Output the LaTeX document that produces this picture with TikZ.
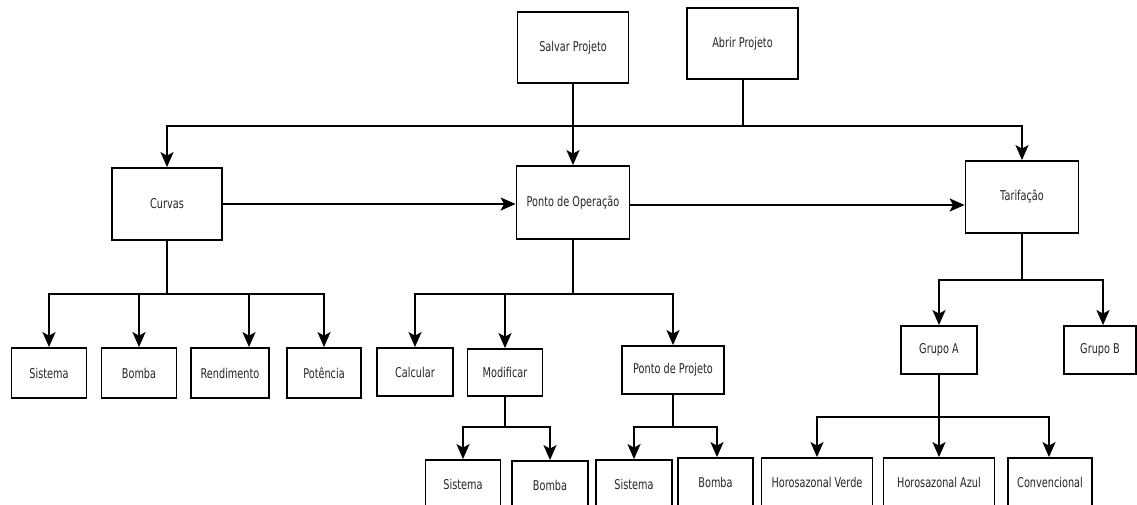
\documentclass[tikz,border=0pt]{standalone}
\usepackage{fontspec}
\setmainfont{DejaVu Sans}[FakeStretch=0.72]
\usetikzlibrary{arrows.meta}
\begin{document}
\begin{tikzpicture}[x=1pt,y=-1pt,
  box/.style={draw=black,line width=1.8pt,fill=white,inner sep=0pt,
    font=\fontsize{13.5}{16}\selectfont,text=black!85},
  conn/.style={draw=black,line width=1.8pt},
  arr/.style={conn,-{Stealth[length=15pt,width=13pt,inset=3.5pt]}}]
\useasboundingbox (0,0) rectangle (1137,504);
\clip (0,0) rectangle (1137,504);
% top row
\node[box,minimum width=111pt,minimum height=71pt] (salvar) at (573,47.5) {Salvar Projeto};
\node[box,minimum width=111pt,minimum height=71pt] (abrir) at (742.5,43.5) {Abrir Projeto};
% second row
\node[box,minimum width=110pt,minimum height=72pt] (curvas) at (167,204) {Curvas};
\node[box,minimum width=113pt,minimum height=73pt] (ponto) at (573,202.5) {Ponto de Operação};
\node[box,minimum width=113pt,minimum height=72pt] (tarif) at (1022,197) {Tarifação};
% third row
\node[box,minimum width=75pt,minimum height=50pt] (csis) at (49,373) {Sistema};
\node[box,minimum width=75pt,minimum height=50pt] (cbom) at (139,373) {Bomba};
\node[box,minimum width=78pt,minimum height=50pt] (cren) at (230,373) {Rendimento};
\node[box,minimum width=74pt,minimum height=50pt] (cpot) at (324,373) {Potência};
\node[box,minimum width=76pt,minimum height=48pt] (calc) at (415,372) {Calcular};
\node[box,minimum width=75pt,minimum height=47pt] (modif) at (505,372.5) {Modificar};
\node[box,minimum width=102pt,minimum height=48pt] (pproj) at (673,370) {Ponto de Projeto};
\node[box,minimum width=76pt,minimum height=48pt] (grupoa) at (939,350) {Grupo A};
\node[box,minimum width=72pt,minimum height=48pt] (grupob) at (1100,350) {Grupo B};
% bottom row
\node[box,minimum width=75pt,minimum height=48pt] (msis) at (463,484) {Sistema};
\node[box,minimum width=76pt,minimum height=48pt] (mbom) at (550,485) {Bomba};
\node[box,minimum width=76pt,minimum height=48pt] (psis) at (634,484) {Sistema};
\node[box,minimum width=75pt,minimum height=48pt] (pbom) at (715.5,482) {Bomba};
\node[box,minimum width=111pt,minimum height=48pt] (hv) at (817,482) {Horosazonal Verde};
\node[box,minimum width=111pt,minimum height=48pt] (ha) at (939,482) {Horosazonal Azul};
\node[box,minimum width=84pt,minimum height=48pt] (conv) at (1050,482) {Convencional};
% junction points
\coordinate (jtop) at (743,126);
\coordinate (jcur) at (167,294);
\coordinate (jpon) at (573,294);
\coordinate (jmod) at (505,427);
\coordinate (jpro) at (673,427);
\coordinate (jtar) at (1022,280);
\coordinate (jgra) at (939,417);
% connectors
\draw[arr] (salvar.south) -- (ponto.north);
\draw[conn] (abrir.south -| jtop) -- (jtop);
\draw[arr] (jtop) -| (curvas.north);
\draw[arr] (jtop) -| (tarif.north);
\draw[arr] (curvas.east) -- (ponto.west |- curvas.east);
\draw[arr] (ponto.east |- 0,205) -- (tarif.west |- 0,205);
% curvas children
\draw[conn] (curvas.south) -- (jcur);
\draw[arr] (jcur) -| (csis.north);
\draw[arr] (jcur) -| (cbom.north);
\draw[arr] (jcur) -| ([xshift=19pt]cren.north);
\draw[arr] (jcur) -| (cpot.north);
% ponto children
\draw[conn] (ponto.south) -- (jpon);
\draw[arr] (jpon) -| (calc.north);
\draw[arr] (jpon) -| (modif.north);
\draw[arr] (jpon) -| (pproj.north);
% modificar children
\draw[conn] (modif.south) -- (jmod);
\draw[arr] (jmod) -| (msis.north);
\draw[arr] (jmod) -| (mbom.north);
% ponto de projeto children
\draw[conn] (pproj.south) -- (jpro);
\draw[arr] (jpro) -| (psis.north);
\draw[arr] (jpro) -| (pbom.north -| 717,0);
% tarifacao children
\draw[conn] (tarif.south) -- (jtar);
\draw[arr] (jtar) -| (grupoa.north);
\draw[arr] (jtar) -| (grupob.north -| 1103,0);
% grupo A children
\draw[conn] (grupoa.south) -- (jgra);
\draw[arr] (jgra) -| (hv.north);
\draw[arr] (jgra) -| (ha.north);
\draw[arr] (jgra) -| (conv.north -| 1049,0);
\end{tikzpicture}
\end{document}
